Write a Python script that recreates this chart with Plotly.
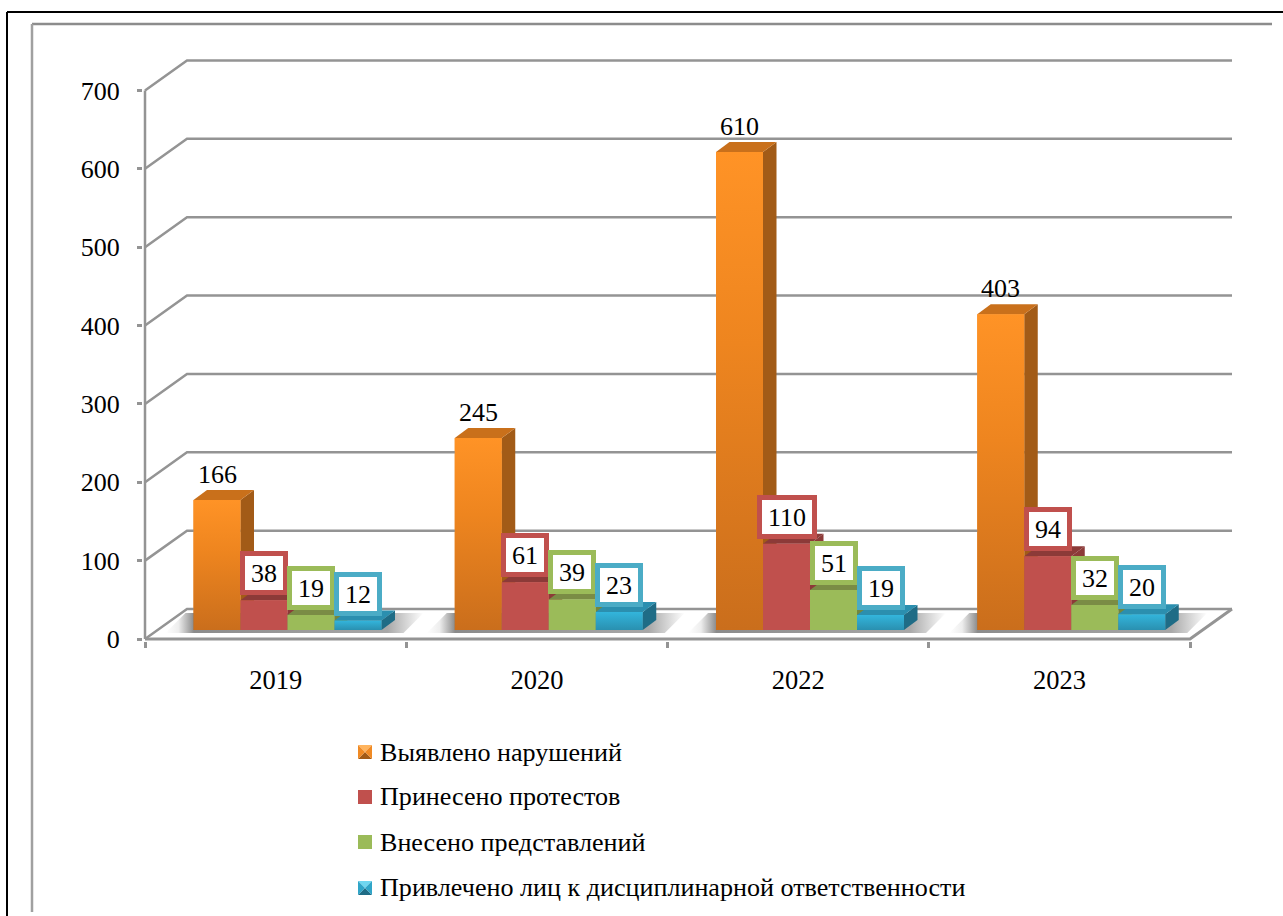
"""
3D-look clustered bars: yearly counts by supervision outcome.
Plotly has no 3D bar for cartesian axes, so depth faces are polygons from the values.
"""
import plotly.graph_objects as go

years = ["2019", "2020", "2022", "2023"]
series_names = [
    "Выявлено нарушений",
    "Принесено протестов",
    "Внесено представлений",
    "Привлечено лиц к дисциплинарной ответственности",
]
violations = [166, 245, 610, 403]
protests = [38, 61, 110, 94]
submissions = [19, 39, 51, 32]
disciplined = [12, 23, 19, 20]
y_ticks = [0, 100, 200, 300, 400, 500, 600, 700]

all_values = [violations, protests, submissions, disciplined]

FONT = "Liberation Serif"
GRID = "#949494"

# pixel geometry of the plot box, a little larger than the axes so lines are not clipped
LEFT, RIGHT, TOP, BOTTOM = 143, 1236, 50, 641
ORIGIN_X, ORIGIN_Y = 145, 639
X_UNIT = 261.25  # px per category
Y_UNIT = 0.7836  # px per count

# wall depth, bar depth, and where the bars stand on the floor
wall_dx, wall_dy = 42 / X_UNIT, 30 / Y_UNIT
bar_dx, bar_dy = 13.5 / X_UNIT, 10 / Y_UNIT
floor_y = 9 / Y_UNIT
first_bar = 48.5 / X_UNIT
bar_w = 47 / X_UNIT

front_fill = [
    dict(type="vertical", colorscale=[[0, "#CA6E1C"], [0.6, "#EE851F"], [1, "#FF9326"]]),
    None,
    None,
    dict(type="vertical", colorscale=[[0, "#2A90B0"], [1, "#33B5DC"]]),
]
front_solid = ["#F08A24", "#C0504D", "#9BBB59", "#30A5C8"]
side_color = ["#A25B17", "#8C3A38", "#72873F", "#1F6C86"]
top_color = ["#C9701B", "#8C3A38", "#7A8C45", "#2B8FAF"]
box_color = [None, "#C0504D", "#9BBB59", "#4BACC6"]


def px(x):
    return (x - LEFT) / (RIGHT - LEFT)


def py(y):
    return (BOTTOM - y) / (BOTTOM - TOP)


def poly(xs, ys, color=None, gradient=None):
    kw = dict(fillgradient=gradient) if gradient else dict(fillcolor=color)
    return go.Scatter(x=xs, y=ys, mode="lines", fill="toself", line=dict(width=0),
                      hoverinfo="skip", showlegend=False, cliponaxis=False, **kw)


fig = go.Figure()

# real bars, for hover; the scatter layer above repaints them to keep depth order
for s, name in enumerate(series_names):
    fig.add_trace(go.Bar(
        x=[i + first_bar + (s + 0.5) * bar_w for i in range(len(years))],
        y=all_values[s],
        base=floor_y,
        width=bar_w,
        name=name,
        marker=dict(color=front_solid[s], line=dict(width=0)),
        showlegend=False,
        customdata=years,
        hovertemplate="%{customdata}: %{y}<extra>" + name + "</extra>",
    ))

# back wall gridlines
for v in y_ticks:
    fig.add_trace(go.Scatter(
        x=[0, wall_dx, 4 + wall_dx], y=[v, v + wall_dy, v + wall_dy], mode="lines",
        line=dict(color=GRID, width=2.5), hoverinfo="skip", showlegend=False, cliponaxis=False,
    ))

# floor edge and left axis
fig.add_trace(go.Scatter(
    x=[0, 4, 4 + wall_dx], y=[0, 0, wall_dy], mode="lines",
    line=dict(color=GRID, width=3), hoverinfo="skip", showlegend=False, cliponaxis=False,
))
fig.add_trace(go.Scatter(
    x=[0, 0], y=[0, 700], mode="lines",
    line=dict(color=GRID, width=2.5), hoverinfo="skip", showlegend=False, cliponaxis=False,
))

# soft shadow under each cluster
shadow_scale = [[0, "rgba(110,110,110,0)"], [0.05, "rgba(110,110,110,0.12)"],
                [0.11, "rgba(110,110,110,0.8)"], [0.86, "rgba(110,110,110,0.6)"],
                [1, "rgba(110,110,110,0)"]]
for i in range(len(years)):
    x0 = i + first_bar - 28 / X_UNIT
    x1 = i + first_bar + 230 / X_UNIT
    slant = 20 / X_UNIT
    fig.add_trace(poly(
        [x0, x0 + slant, x1, x1 - slant, x0],
        [floor_y - 3 / Y_UNIT, floor_y + 17 / Y_UNIT, floor_y + 17 / Y_UNIT,
         floor_y - 3 / Y_UNIT, floor_y - 3 / Y_UNIT],
        gradient=dict(type="horizontal", colorscale=shadow_scale),
    ))

# bar faces cluster by cluster, left to right
for i in range(len(years)):
    for s in range(len(series_names)):
        x0 = i + first_bar + s * bar_w
        x1 = x0 + bar_w
        top = floor_y + all_values[s][i]
        # right side
        fig.add_trace(poly(
            [x1, x1 + bar_dx, x1 + bar_dx, x1, x1],
            [floor_y, floor_y + bar_dy, top + bar_dy, top, floor_y],
            color=side_color[s],
        ))
        # top
        fig.add_trace(poly(
            [x0, x0 + bar_dx, x1 + bar_dx, x1, x0],
            [top, top + bar_dy, top + bar_dy, top, top],
            color=top_color[s],
        ))
        # front
        fig.add_trace(poly(
            [x0, x1, x1, x0, x0],
            [floor_y, floor_y, top, top, floor_y],
            color=front_solid[s], gradient=front_fill[s],
        ))

annotations = []

# value labels: plain on the first series, boxed on the others
for s in range(len(series_names)):
    for i, v in enumerate(all_values[s]):
        x = i + first_bar + (s + 0.5) * bar_w
        label = dict(x=x, y=floor_y + v, text=str(v), showarrow=False, yanchor="bottom",
                     font=dict(family=FONT, size=26, color="black"))
        if s == 0:
            label.update(yshift=9)
        else:
            label.update(yshift=5, bgcolor="white", bordercolor=box_color[s], borderwidth=5,
                         borderpad=0, width=38 if v < 100 else 50, height=34)
        annotations.append(label)

# legend, hand built because of the bevelled keys
legend_y = [752, 797, 842, 888]
shapes = []
for name, ly, s in zip(series_names, legend_y, range(4)):
    annotations.append(dict(
        xref="paper", yref="paper", x=px(377.5), y=py(ly), text=name, showarrow=False,
        xanchor="left", yanchor="middle", font=dict(family=FONT, size=26.1, color="black"),
    ))
    x0, x1, y0, y1 = 358, 372, ly - 7, ly + 7
    cx, cy = (x0 + x1) / 2, (y0 + y1) / 2
    if s in (1, 2):
        shapes.append(dict(type="rect", xref="paper", yref="paper", x0=px(x0), x1=px(x1),
                           y0=py(y0), y1=py(y1), fillcolor=box_color[s], line_width=0))
    else:
        light, mid, dark = (("#FFB45E", "#F08A24", "#A25B17") if s == 0
                            else ("#6FD6F0", "#30A5C8", "#1F6C86"))
        faces = [
            ((x0, y0), (x1, y0), light),
            ((x0, y1), (x1, y1), dark),
            ((x0, y0), (x0, y1), mid),
            ((x1, y0), (x1, y1), mid),
        ]
        for a, b, col in faces:
            path = (f"M{px(a[0])},{py(a[1])} L{px(b[0])},{py(b[1])} "
                    f"L{px(cx)},{py(cy)} Z")
            shapes.append(dict(type="path", xref="paper", yref="paper", path=path,
                               fillcolor=col, line_width=0))

# outer frames of the source document
frame = [
    (7, 12, 1290, 12, "black", 2),
    (7, 12, 7, 920, "black", 2),
    (32, 24, 1272, 24, "#8C8C8C", 2.5),
    (32, 24, 32, 912, "#A0A0A0", 2.5),
]
for x0, y0, x1, y1, col, w in frame:
    shapes.append(dict(type="line", xref="paper", yref="paper", x0=px(x0), x1=px(x1),
                       y0=py(y0), y1=py(y1), line=dict(color=col, width=w)))

fig.update_layout(
    width=1283,
    height=916,
    margin=dict(l=LEFT, r=1283 - RIGHT, t=TOP, b=916 - BOTTOM, autoexpand=False),
    paper_bgcolor="white",
    plot_bgcolor="white",
    showlegend=False,
    barmode="overlay",
    annotations=annotations,
    shapes=shapes,
    font=dict(family=FONT, size=26, color="black"),
    xaxis=dict(
        range=[(LEFT - ORIGIN_X) / X_UNIT, (RIGHT - ORIGIN_X) / X_UNIT],
        tickmode="array",
        tickvals=[i + 0.5 for i in range(len(years))],
        ticktext=years,
        ticks="",
        tickfont=dict(family=FONT, size=26.5),
        ticklabelstandoff=20,
        showgrid=False,
        zeroline=False,
        showline=False,
        minor=dict(tickmode="array", tickvals=list(range(len(years) + 1)), ticks="outside",
                   ticklen=6, tickwidth=2.5, tickcolor=GRID, showgrid=False),
    ),
    yaxis=dict(
        range=[(ORIGIN_Y - BOTTOM) / Y_UNIT, (ORIGIN_Y - TOP) / Y_UNIT],
        tickmode="array",
        tickvals=y_ticks,
        ticks="outside",
        ticklen=5,
        tickwidth=2.5,
        tickcolor=GRID,
        tickfont=dict(family=FONT, size=26),
        ticklabelstandoff=12,
        showgrid=False,
        zeroline=False,
        showline=False,
    ),
)

fig.write_html("out.html", post_script="document.body.style.margin='0';",
               config=dict(displayModeBar=False))
